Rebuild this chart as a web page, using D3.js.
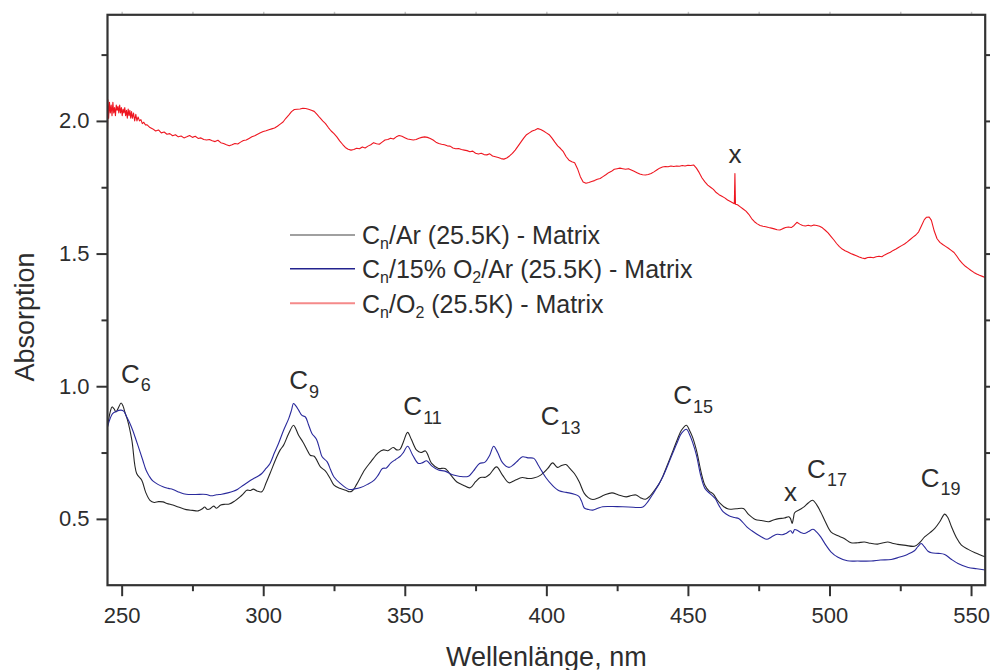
<!DOCTYPE html>
<html>
<head>
<meta charset="utf-8">
<script src="https://cdn.jsdelivr.net/npm/d3@7"></script>
<style>
  html, body { margin: 0; padding: 0; background: #fff; }
  svg { display: block; font-family: "Liberation Sans", Arial, sans-serif; }
</style>
</head>
<body>
<svg id="chart" width="990" height="670"></svg>
<script>
// Absorption spectra of C_n chains in different matrices, [wavelength nm, absorption]
const arMatrix = [
  [245,0.847],[246,0.905],[246.6,0.922],[247.3,0.915],[248,0.903],[248.9,0.92],[249.8,0.937],[250.5,0.925],
  [251.2,0.90],[252,0.875],[253.6,0.797],[255.3,0.671],[257.1,0.646],[258.5,0.60],[260,0.570],[261.5,0.562],
  [263,0.565],[264.6,0.564],[266,0.558],[268.1,0.552],[270,0.545],[272.8,0.535],[275,0.532],[277,0.530],
  [278.5,0.538],[279.3,0.545],[280.2,0.536],[281.1,0.537],[282.5,0.548],[283.5,0.540],[285,0.552],[286.5,0.555],
  [288,0.556],[290,0.568],[291.8,0.583],[293,0.595],[294.2,0.608],[295.5,0.607],[296.5,0.612],[297.8,0.605],
  [299.5,0.602],[301,0.635],[302.4,0.671],[304.8,0.734],[306,0.76],[307.2,0.778],[309,0.822],[310.7,0.853],
  [311.5,0.84],[312.5,0.815],[314,0.79],[315.5,0.76],[316.6,0.740],[318,0.736],[320.2,0.696],[322,0.68],
  [323.5,0.655],[325,0.627],[327,0.615],[329.1,0.608],[330.5,0.602],[331.5,0.606],[333,0.63],[335.8,0.684],
  [338,0.715],[340.6,0.749],[342.5,0.76],[344,0.757],[345.9,0.769],[347.2,0.76],[348.3,0.762],[349.5,0.79],
  [351,0.826],[352.3,0.80],[354.2,0.759],[355.7,0.750],[357.3,0.756],[359.5,0.709],[361.9,0.690],[364.2,0.690],
  [366.5,0.662],[368.4,0.639],[370.5,0.628],[373.1,0.617],[375,0.64],[376.7,0.656],[378.5,0.657],[380,0.668],
  [382.4,0.696],[384.5,0.665],[386.8,0.636],[388.8,0.645],[391.5,0.656],[393.5,0.652],[395.5,0.654],[398,0.665],
  [400.5,0.690],[402.2,0.711],[403.9,0.694],[405.2,0.70],[406.9,0.705],[408.3,0.69],[409.9,0.671],[411.6,0.640],
  [413.4,0.596],[414.8,0.580],[416.4,0.573],[418.5,0.580],[420.5,0.590],[423.2,0.598],[425.5,0.590],[428.2,0.583],
  [430,0.588],[431.7,0.590],[433.2,0.580],[435,0.574],[436.5,0.585],[438,0.605],[439.7,0.630],[441.2,0.662],
  [443,0.71],[444.8,0.759],[446.3,0.80],[447.7,0.834],[449.5,0.853],[450.5,0.835],[451.6,0.809],[453,0.759],
  [454.8,0.67],[456,0.627],[457.5,0.605],[459,0.593],[460.3,0.572],[461.4,0.558],[462.8,0.545],[464.3,0.537],
  [467,0.538],[469.6,0.539],[471.4,0.517],[473.8,0.498],[476,0.494],[478.5,0.489],[480.5,0.497],[482.1,0.501],
  [484,0.503],[485.6,0.508],[486.2,0.502],[486.8,0.483],[487.3,0.505],[487.7,0.523],[489.5,0.535],[491,0.545],
  [492.5,0.560],[494,0.570],[495.5,0.553],[496.9,0.526],[498.5,0.49],[500.5,0.451],[502.8,0.437],[505.2,0.426],
  [507.6,0.410],[510,0.41],[512.3,0.413],[514.5,0.408],[517,0.405],[519,0.41],[520.6,0.413],[522.5,0.407],
  [524.1,0.404],[527,0.40],[530,0.397],[531.8,0.41],[533.6,0.432],[535.5,0.448],[537.2,0.464],[539,0.49],
  [540.7,0.518],[541.8,0.505],[543.1,0.470],[544.8,0.43],[546.6,0.401],[549,0.385],[551.4,0.372],[553.5,0.363],
  [555,0.357]
];

const o2ArMatrix = [
  [245,0.847],[246,0.88],[246.8,0.897],[248,0.905],[249.8,0.910],[250.8,0.905],[251.5,0.891],[252.7,0.865],
  [253.9,0.834],[255,0.80],[256.3,0.759],[257.5,0.72],[258.6,0.684],[259.8,0.66],[261,0.643],[262.8,0.63],
  [264.6,0.621],[266.5,0.615],[268.1,0.611],[270.5,0.60],[272.8,0.593],[276,0.592],[279.9,0.592],[281.7,0.587],
  [283.5,0.591],[285.3,0.593],[287.5,0.598],[289.4,0.604],[291,0.612],[293,0.627],[294.8,0.64],[296.5,0.651],
  [298,0.66],[299.5,0.671],[301,0.69],[302.4,0.709],[304,0.75],[305.4,0.784],[307.2,0.834],[309,0.878],
  [310,0.91],[310.7,0.935],[311.6,0.925],[312.5,0.910],[313.7,0.89],[314.9,0.884],[316,0.855],[317.2,0.822],
  [318.8,0.80],[320,0.76],[320.8,0.734],[322.6,0.715],[323.8,0.685],[325,0.658],[327.3,0.633],[330.3,0.611],
  [332.3,0.613],[334.4,0.618],[336.8,0.63],[339.2,0.646],[340.6,0.665],[342.1,0.690],[343.5,0.692],[345,0.71],
  [346.8,0.724],[348.3,0.735],[349.5,0.75],[351,0.774],[352.8,0.74],[354.8,0.709],[356.3,0.712],[357.7,0.719],
  [359.5,0.70],[361.9,0.684],[364.2,0.680],[367.2,0.665],[369.5,0.660],[372.5,0.661],[374.2,0.68],[376.4,0.709],
  [378.2,0.713],[380,0.74],[381.4,0.774],[382.8,0.75],[384.5,0.712],[386.8,0.694],[388.5,0.705],[390,0.72],
  [391.6,0.734],[393.5,0.730],[395.6,0.728],[397,0.705],[398.4,0.680],[399.8,0.656],[402,0.628],[404.5,0.606],
  [407,0.600],[409.9,0.593],[411.5,0.585],[412.5,0.565],[413.4,0.541],[415,0.535],[416.4,0.533],[418.2,0.540],
  [419.9,0.546],[425,0.546],[429,0.545],[434.1,0.545],[436,0.567],[438,0.600],[439.7,0.630],[441.2,0.660],
  [443,0.705],[444.8,0.752],[446.3,0.79],[447.7,0.822],[449.5,0.838],[450.5,0.82],[451.6,0.79],[453,0.740],
  [454.6,0.66],[456,0.615],[457.8,0.595],[459.6,0.577],[461,0.55],[462.5,0.526],[464.5,0.512],[466.5,0.505],
  [467.9,0.501],[469.3,0.488],[470.8,0.470],[472.6,0.455],[474.4,0.442],[476,0.432],[477.9,0.423],[479.5,0.432],
  [481.5,0.442],[483.3,0.44],[484.8,0.446],[486.3,0.455],[487,0.446],[487.7,0.46],[488.6,0.457],[490,0.448],
  [491,0.445],[492.6,0.452],[494.2,0.461],[495.5,0.45],[496.9,0.432],[498.8,0.40],[500.5,0.376],[503,0.355],
  [506.3,0.342],[510,0.341],[514.7,0.341],[518,0.345],[521.8,0.347],[524.5,0.355],[527.7,0.367],[530,0.38],
  [531.2,0.395],[532.4,0.407],[533.5,0.395],[534.8,0.378],[536,0.372],[538.5,0.37],[540.7,0.366],[543,0.348],
  [545.4,0.332],[549,0.317],[552,0.312],[555,0.307]
];

const o2Matrix = [
  [245,1.97],[245.15,2.08],[245.4,2.01],[245.7,2.07],[246,2.03],[246.3,2.06],[246.6,2.02],[246.9,2.07],
  [247.2,2.03],[247.5,2.05],[247.8,2.02],[248.1,2.06],[248.4,2.04],[248.7,2.055],[249,2.03],[249.3,2.06],
  [249.6,2.03],[249.9,2.05],[250.2,2.02],[250.5,2.045],[250.8,2.03],[251.1,2.05],[251.4,2.02],[251.7,2.04],
  [252,2.01],[252.3,2.045],[252.6,2.02],[252.9,2.04],[253.2,2.01],[253.5,2.035],[253.8,2.01],[254.2,2.03],
  [254.6,2.0],[255,2.025],[255.4,2.0],[255.8,2.015],[256.3,2.0],[256.8,2.005],[257.3,1.99],[257.8,1.995],
  [258.4,1.985],[259,1.985],[260,1.975],[261,1.97],[262,1.962],[263,1.966],[264,1.955],[265,1.958],
  [266,1.95],[267,1.952],[268,1.944],[269,1.948],[270,1.94],[271,1.943],[272,1.936],[273,1.94],
  [274,1.945],[275,1.938],[276,1.942],[277,1.934],[278,1.936],[279,1.93],[280,1.928],[281,1.93],
  [282,1.925],[283,1.922],[284,1.927],[285,1.918],[286,1.915],[287,1.91],[288,1.906],[289,1.91],
  [290,1.915],[291,1.913],[292,1.92],[293,1.926],[294,1.928],[295,1.934],[296,1.94],[297,1.944],
  [298,1.95],[299,1.955],[300,1.96],[301,1.963],[302,1.967],[303,1.97],[304,1.973],[305,1.98],
  [306,1.988],[307,1.996],[308,2.01],[309,2.022],[310,2.035],[311,2.043],[312,2.044],[313,2.045],
  [314,2.048],[315,2.047],[316,2.044],[317,2.04],[318,2.036],[319,2.025],[320,2.012],[321,2.0],
  [322,1.99],[323,1.975],[324,1.962],[325,1.952],[326,1.94],[327,1.925],[328,1.912],[329,1.9],
  [330,1.893],[331,1.89],[332,1.892],[333,1.897],[334,1.895],[335,1.902],[336,1.898],[337,1.905],
  [338,1.91],[339,1.918],[340,1.914],[341,1.912],[342,1.92],[343,1.928],[344,1.93],[345,1.935],
  [346,1.932],[347,1.94],[348,1.945],[349,1.942],[350,1.937],[351,1.932],[352,1.93],[353,1.928],
  [354,1.93],[355,1.935],[356,1.938],[357,1.94],[358,1.938],[359,1.934],[360,1.928],[361,1.92],
  [362,1.915],[363,1.912],[364,1.91],[365,1.906],[366,1.905],[367,1.898],[368,1.895],[369,1.896],
  [370,1.892],[371,1.89],[372,1.888],[373,1.884],[374,1.886],[375,1.878],[376,1.875],[377,1.878],
  [378,1.873],[379,1.872],[380,1.876],[381,1.868],[382,1.865],[383,1.862],[384,1.858],[385,1.856],
  [386,1.86],[387,1.868],[388,1.878],[389,1.89],[390,1.905],[391,1.92],[392,1.935],[393,1.948],
  [394,1.955],[395,1.962],[396,1.966],[397,1.971],[398,1.968],[399,1.962],[400,1.955],[401,1.948],
  [402,1.935],[403,1.92],[404,1.906],[405,1.896],[406,1.884],[407,1.865],[408,1.852],[409,1.846],
  [410,1.842],[411,1.82],[412,1.79],[413,1.77],[414,1.765],[415,1.768],[416,1.772],[417,1.775],
  [418,1.78],[419,1.783],[420,1.79],[421,1.797],[422,1.805],[423,1.81],[424,1.818],[425,1.82],
  [426,1.822],[427,1.82],[428,1.818],[429,1.82],[430,1.815],[431,1.81],[432,1.805],[433,1.8],
  [434,1.797],[435,1.796],[436,1.798],[437,1.802],[438,1.808],[439,1.815],[440,1.822],[441,1.826],
  [442,1.828],[443,1.827],[444,1.83],[445,1.828],[446,1.83],[447,1.829],[448,1.832],[449,1.83],
  [450,1.833],[451,1.832],[452,1.834],[453,1.822],[454,1.805],[455,1.785],[456,1.77],[457,1.758],
  [458,1.75],[459,1.742],[460,1.73],[461,1.722],[462,1.716],[463,1.71],[464,1.702],[465,1.696],
  [466.4,1.688],[466.6,1.802],[466.8,1.686],[467.5,1.684],[468.5,1.676],[469.5,1.668],[470.5,1.66],[471.5,1.648],
  [472.5,1.632],[473.5,1.62],[474.5,1.612],[475.5,1.606],[476.5,1.603],[477.5,1.601],[478.5,1.598],[479.5,1.596],
  [480.5,1.593],[481.5,1.59],[482.5,1.589],[483.5,1.594],[484.5,1.598],[485.5,1.6],[486.5,1.598],[487.5,1.606],
  [488.5,1.618],[489.5,1.611],[490.5,1.606],[491.5,1.604],[492.5,1.607],[493.5,1.604],[494.5,1.608],[495.5,1.606],
  [496.5,1.603],[497.5,1.597],[498.5,1.588],[499.5,1.578],[500.5,1.565],[501.5,1.552],[502.5,1.538],[503.5,1.526],
  [504.5,1.517],[505.5,1.511],[506.5,1.506],[507.5,1.5],[508.5,1.496],[509.5,1.492],[510.5,1.487],[511.5,1.483],
  [512.5,1.481],[513.5,1.485],[514.5,1.486],[515.5,1.484],[516.5,1.488],[517.5,1.49],[518.5,1.488],[519.5,1.495],
  [520.5,1.5],[521.5,1.505],[522.5,1.512],[523.5,1.517],[524.5,1.524],[525.5,1.53],[526.5,1.536],[527.5,1.544],
  [528.5,1.553],[529.5,1.562],[530.5,1.57],[531.5,1.582],[532.5,1.605],[533.5,1.628],[534.3,1.637],[535.2,1.638],
  [536,1.625],[537,1.585],[538,1.556],[539,1.542],[540,1.534],[541,1.527],[542,1.52],[543,1.512],
  [544,1.504],[545,1.49],[546,1.474],[547,1.462],[548,1.452],[549,1.444],[550,1.436],[551,1.429],
  [552,1.423],[553,1.418],[554,1.414],[555,1.41]
];

const xTicksMajor = [250, 300, 350, 400, 450, 500, 550];
const xTicksMinor = [275, 325, 375, 425, 475, 525];
const yTicksMajor = [0.5, 1.0, 1.5, 2.0];
const yTicksMinor = [0.75, 1.25, 1.75, 2.25];

const legendNames = [
  [["C", ""], ["n", "sub"], ["/Ar (25.5K) - Matrix", ""]],
  [["C", ""], ["n", "sub"], ["/15% O", ""], ["2", "sub"], ["/Ar (25.5K) - Matrix", ""]],
  [["C", ""], ["n", "sub"], ["/O", ""], ["2", "sub"], [" (25.5K) - Matrix", ""]]
];

// Peak assignments: [label base, subscript, wavelength, absorption]
const peakLabels = [
  ["C", "6", 249.8, 1.014],
  ["C", "9", 309.2, 0.988],
  ["C", "11", 349.5, 0.891],
  ["C", "13", 398.0, 0.853],
  ["C", "15", 444.8, 0.932],
  ["C", "17", 492.1, 0.655],
  ["C", "19", 532.2, 0.621],
  ["x", "", 483.9, 0.568],
  ["x", "", 464.3, 1.842]
];

const svg = d3.select("#chart");
const X0 = 107.5, X1 = 985.2, Y0 = 585.2, Y1 = 14.8;
const x = d3.scaleLinear().domain([245, 555]).range([X0, X1]);
const y = d3.scaleLinear().domain([0.25, 2.4]).range([Y0, Y1]);

const axisColor = "#333";
const textColor = "#2d2d2d";

const plot = svg.append("g");
plot.append("clipPath").attr("id", "clip")
  .append("rect").attr("x", X0).attr("y", Y1).attr("width", X1 - X0).attr("height", Y0 - Y1);

const series = [
  { data: arMatrix, color: "#262626", curve: d3.curveCatmullRom },
  { data: o2ArMatrix, color: "#2a2a9c", curve: d3.curveCatmullRom },
  { data: o2Matrix, color: "#ee1620", curve: d3.curveLinear }
];

const lines = plot.append("g").attr("clip-path", "url(#clip)");
series.forEach(s => {
  const gen = d3.line().x(d => x(d[0])).y(d => y(d[1])).curve(s.curve);
  lines.append("path").attr("d", gen(s.data))
    .attr("fill", "none").attr("stroke", s.color).attr("stroke-width", 1.1)
    .attr("stroke-linejoin", "round");
});

// Axes (bottom/left labelled, top/right mirrored)
const axBottom = svg.append("g").attr("transform", `translate(0,${Y0})`)
  .call(d3.axisBottom(x).tickValues(xTicksMajor).tickSize(11).tickPadding(11).tickFormat(d3.format("d")));
const axBottomMinor = svg.append("g").attr("transform", `translate(0,${Y0})`)
  .call(d3.axisBottom(x).tickValues(xTicksMinor).tickSize(6).tickFormat(""));
const axLeft = svg.append("g").attr("transform", `translate(${X0},0)`)
  .call(d3.axisLeft(y).tickValues(yTicksMajor).tickSize(11).tickPadding(7).tickFormat(d3.format(".1f")));
const axLeftMinor = svg.append("g").attr("transform", `translate(${X0},0)`)
  .call(d3.axisLeft(y).tickValues(yTicksMinor).tickSize(6).tickFormat(""));
const axTop = svg.append("g").attr("transform", `translate(0,${Y1})`)
  .call(d3.axisTop(x).tickValues(xTicksMajor.concat(xTicksMinor)).tickSize(3).tickFormat(""));
const axRight = svg.append("g").attr("transform", `translate(${X1},0)`)
  .call(d3.axisRight(y).tickValues(yTicksMajor.concat(yTicksMinor)).tickSize(8).tickFormat(""));

[axBottom, axBottomMinor, axLeft, axLeftMinor, axTop, axRight].forEach(g => {
  g.select(".domain").remove();
  g.selectAll(".tick line").attr("stroke", axisColor).attr("stroke-width", 2);
  g.selectAll(".tick text").attr("fill", textColor).attr("font-size", 22)
    .attr("font-family", "Liberation Sans, Arial, sans-serif");
});
axTop.selectAll(".tick line").attr("stroke", "#c8c8c8").attr("stroke-width", 1.5);

// Frame
svg.append("rect").attr("x", X0).attr("y", Y1).attr("width", X1 - X0).attr("height", Y0 - Y1)
  .attr("fill", "none").attr("stroke", axisColor).attr("stroke-width", 2.2);

// Axis titles
svg.append("text").attr("x", (X0 + X1) / 2).attr("y", 666).attr("text-anchor", "middle")
  .attr("font-size", 27).attr("fill", textColor).text("Wellenlänge, nm");
svg.append("text").attr("transform", `translate(34,317) rotate(-90)`).attr("text-anchor", "middle")
  .attr("font-size", 27).attr("fill", textColor).text("Absorption");

// Legend
const legendX1 = 290, legendX2 = 355, legendTextX = 362;
const legendRowY = [235, 268.7, 303.3];
const legendStroke = ["#808080", "#23238e", "#f58a8a"];
legendNames.forEach((parts, i) => {
  svg.append("line").attr("x1", legendX1).attr("x2", legendX2)
    .attr("y1", legendRowY[i]).attr("y2", legendRowY[i])
    .attr("stroke", legendStroke[i]).attr("stroke-width", i === 2 ? 2 : 1.5);
  const t = svg.append("text").attr("x", legendTextX).attr("y", legendRowY[i] + 9.3)
    .attr("font-size", 25).attr("fill", textColor);
  let shifted = false;
  parts.forEach(([str, kind]) => {
    const ts = t.append("tspan").text(str);
    if (kind === "sub") { ts.attr("font-size", 16).attr("dy", 5); shifted = true; }
    else if (shifted) { ts.attr("dy", -5); shifted = false; }
  });
});

// Peak labels
peakLabels.forEach(([base, sub, wl, a]) => {
  const t = svg.append("text").attr("x", x(wl)).attr("y", y(a))
    .attr("font-size", 26).attr("fill", textColor);
  t.append("tspan").text(base);
  if (sub) t.append("tspan").attr("font-size", 18).attr("dy", 8.5).attr("dx", 1).text(sub);
});
</script>
</body>
</html>
